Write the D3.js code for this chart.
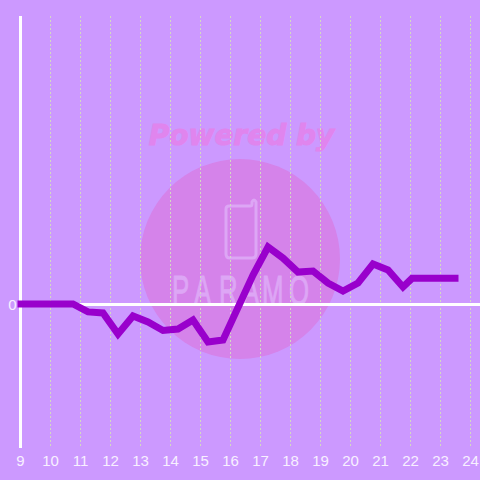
<!DOCTYPE html>
<html><head><meta charset="utf-8">
<script src="https://cdnjs.cloudflare.com/ajax/libs/d3/7.8.5/d3.min.js"></script>
<style>html,body{margin:0;padding:0;background:#cc99ff}svg{display:block}</style>
</head><body><svg id="c" width="480" height="480"></svg>
<script>
const hours = [8.9,10.75,11.25,11.75,12.25,12.75,13.25,13.75,14.25,14.75,15.25,15.75,16.75,17.25,17.75,18.25,18.75,19.25,19.75,20.25,20.75,21.25,21.75,22.05,22.75,23.25,23.6];
const values = [0,0,-0.055,-0.062,-0.208,-0.083,-0.125,-0.184,-0.174,-0.111,-0.264,-0.25,0.201,0.396,0.319,0.222,0.229,0.146,0.090,0.146,0.278,0.236,0.118,0.178,0.178,0.178,0.178];
const xTicks = d3.range(9,25);
const yTicks = [0];
const wmLetters = ["P","A","R","A","M","O"];
const wmLetterX = [172,194,219,242,262,289];
const svg = d3.select("#c");
const x = d3.scaleLinear().domain([9,24]).range([20.5,470.5]);
const y = d3.scaleLinear().domain([-1,2]).range([448,16]);
svg.append("rect").attr("width",480).attr("height",480).attr("fill","#cc99ff");
// watermark
const wm = svg.append("g");
wm.append("circle").attr("cx",240).attr("cy",259).attr("r",100).attr("fill","#d583ea");
wm.append("text").attr("x",241.5).attr("y",145).attr("text-anchor","middle")
  .attr("font-family","'DejaVu Sans'").attr("font-weight","bold").attr("font-style","italic")
  .attr("font-size",28).attr("fill","#e085ee").attr("stroke","#e085ee").attr("stroke-width",1).text("Powered by");
wm.append("path").attr("d","M229 206 H250 Q252 206 252 204 V202 Q254 198 256 202 V254 Q256 258 252 258 H230 Q226 258 226 254 V209 Q226 206 229 206 Z")
  .attr("fill","none").attr("stroke","#dda6f5").attr("stroke-width",3);
wm.append("g").attr("transform","translate(0,305) scale(0.6,1)").selectAll("text").data(wmLetters).join("text")
  .attr("x",(d,i)=>wmLetterX[i]/0.6).attr("y",0).attr("font-family","'Liberation Sans'")
  .attr("font-size",43).attr("fill","#dda6f5").attr("stroke","#dda6f5").attr("stroke-width",1).text(d=>d);
// grid
svg.append("g").selectAll("line").data(xTicks.slice(1)).join("line")
  .attr("x1",d=>x(d)).attr("x2",d=>x(d)).attr("y1",y(2)).attr("y2",y(-1))
  .attr("stroke","#d4d8c4").attr("stroke-width",1).attr("stroke-dasharray","2 2");
// axes
svg.append("line").attr("x1",x(9)).attr("x2",x(9)).attr("y1",y(2)).attr("y2",y(-1)).attr("stroke","#fff").attr("stroke-width",3);
svg.append("line").attr("x1",x(9)).attr("x2",480).attr("y1",y(0)+0.5).attr("y2",y(0)+0.5).attr("stroke","#fff").attr("stroke-width",3);
// labels
svg.append("g").selectAll("text").data(xTicks).join("text")
  .attr("x",d=>x(d)).attr("y",466).attr("text-anchor","middle")
  .attr("font-family","'Liberation Sans'").attr("font-size",15).attr("fill","#f8f0ff").text(d=>d);
svg.append("g").selectAll("text").data(yTicks).join("text")
  .attr("x",16.5).attr("y",d=>y(d)+6).attr("text-anchor","end")
  .attr("font-family","'Liberation Sans'").attr("font-size",15).attr("fill","#f8f0ff").text(d=>d);
// series
const line = d3.line().x((d,i)=>x(hours[i])).y(d=>y(d));
svg.append("path").attr("d",line(values)).attr("fill","none").attr("stroke","#9900cc").attr("stroke-width",7).attr("stroke-linejoin","miter");
</script></body></html>
